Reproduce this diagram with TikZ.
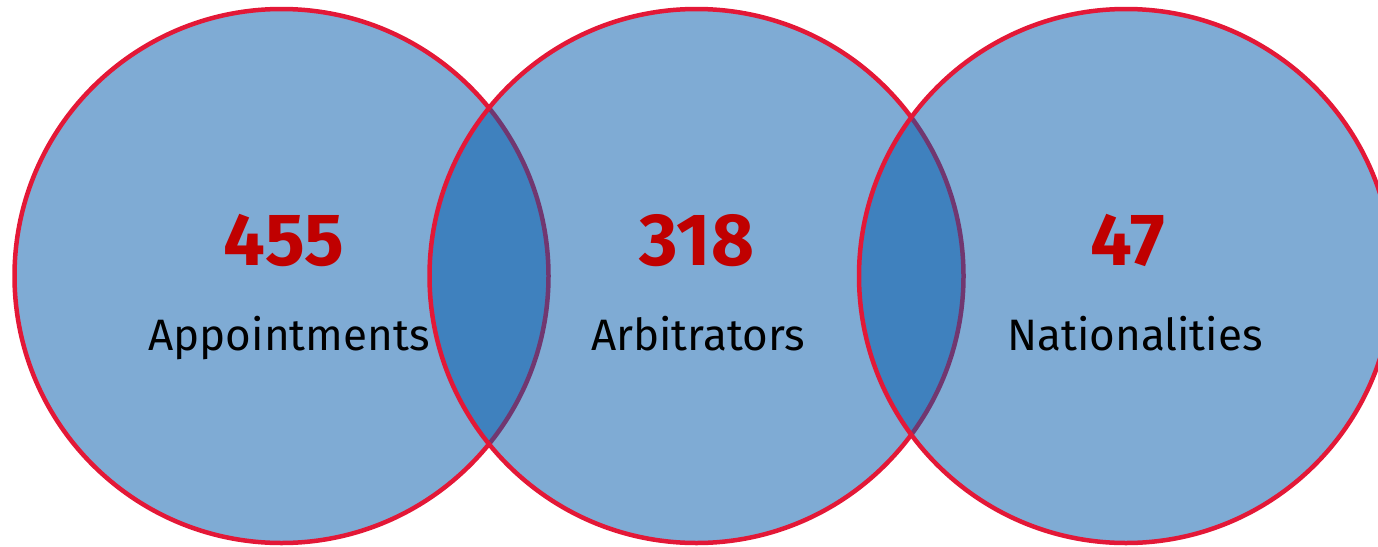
\documentclass[tikz,border=0pt]{standalone}
\usepackage{fontspec}
\setmainfont{Fira Sans}
\definecolor{setblue}{RGB}{0,87,169}
\definecolor{rimred}{RGB}{227,24,55}
\definecolor{numred}{RGB}{192,0,0}
\begin{document}
\begin{tikzpicture}[x=1pt,y=-1pt,
  setcircle/.style={draw=rimred,line width=4.5pt,fill=setblue,fill opacity=0.5},
  countlabel/.style={anchor=base,text=numred,font=\fontsize{74}{74}\selectfont\bfseries,inner sep=0pt},
  namelabel/.style={anchor=base,text=black,font=\fontsize{44}{44}\selectfont,inner sep=0pt}]
  \useasboundingbox (0,0) rectangle (1378,546);
  % three overlapping sets, drawn left to right
  \draw[setcircle] (281.5,276) circle[radius=267];
  \draw[setcircle] (696.5,276) circle[radius=267];
  \draw[setcircle] (1126,276) circle[radius=267];
  % counts and captions
  \node[countlabel] (n1) at (284,265) {455};
  \node[namelabel]  (t1) at (289,350) {Appointments};
  \node[countlabel] (n2) at (697,265) {318};
  \node[namelabel]  (t2) at (698,350) {Arbitrators};
  \node[countlabel] (n3) at (1128,265) {47};
  \node[namelabel]  (t3) at (1135,350) {Nationalities};
\end{tikzpicture}
\end{document}
